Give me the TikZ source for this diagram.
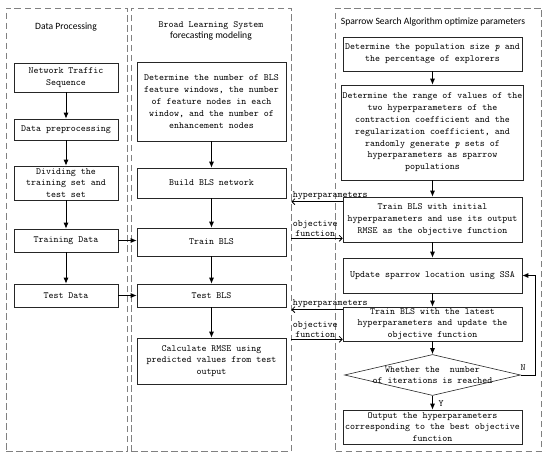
\documentclass[tikz,border=0pt]{standalone}
\usepackage{fontspec}
\usepackage{tikz}
\usetikzlibrary{arrows.meta, shapes.geometric}
\newfontfamily\headfont{Carlito}

\begin{document}
\begin{tikzpicture}[x=1pt, y=-1pt,
		panel/.style={draw=gray, dash pattern=on 6.5pt off 3.5pt, line width=0.8pt, inner sep=0pt},
		stepbox/.style={draw=black!85, line width=0.6pt, inner sep=1pt, align=center, font=\ttfamily\fontsize{9.5}{11.8}\selectfont},
		flow/.style={-{Latex[length=6pt, width=5pt]}, line width=0.9pt},
		feed/.style={-{Straight Barb[length=3pt, width=6pt]}, line width=0.8pt},
		tag/.style={inner sep=1pt, font=\ttfamily\fontsize{9.5}{10.5}\selectfont, align=center},
		head/.style={font=\headfont\fontsize{9.6}{11.6}\selectfont, align=center}]
			\useasboundingbox (0,0) rectangle (550,460);

			\node[panel, minimum width=121pt, minimum height=443pt] (dppanel) at (66.5,229.5) {};
			\node[panel, minimum width=160pt, minimum height=443pt] (blspanel) at (211,229.5) {};
			\node[panel, minimum width=206pt, minimum height=443pt] (ssapanel) at (438.5,229.5) {};

			\node[head] (dptitle) at (66,27) {Data Processing};
			\node[head] (blstitle) at (211,31) {{\ttfamily\fontsize{9.5}{12}\selectfont Broad Learning System}\\forecasting modeling};
			\node[head] (ssatitle) at (433,22) {Sparrow Search Algorithm optimize parameters};

			\node[stepbox, minimum width=104pt, minimum height=29pt] (seq) at (66,77.5) {Network Traffic\\Sequence};
			\node[stepbox, minimum width=104pt, minimum height=21pt] (prep) at (66,129.5) {Data preprocessing};
			\node[stepbox, minimum width=104pt, minimum height=34pt] (split) at (66,183) {Dividing the\\training set and\\test set};
			\node[stepbox, minimum width=104pt, minimum height=23pt] (traindata) at (66,240.5) {Training Data};
			\node[stepbox, minimum width=104pt, minimum height=23pt] (testdata) at (66,295.5) {Test Data};

			\node[stepbox, minimum width=149pt, minimum height=79pt] (setup) at (211.5,101.5) {Determine the number of BLS\\feature windows, the number\\of feature nodes in each\\window, and the number of\\enhancement nodes};
			\node[stepbox, minimum width=149pt, minimum height=30pt] (build) at (211.5,183) {Build BLS network};
			\node[stepbox, minimum width=149pt, minimum height=28pt] (trainbls) at (211.5,242) {Train BLS};
			\node[stepbox, minimum width=149pt, minimum height=23pt] (testbls) at (211.5,295.5) {Test BLS};
			\node[stepbox, minimum width=149pt, minimum height=46pt] (rmse) at (211.5,361) {Calculate RMSE using\\predicted values from test\\output};

			\node[stepbox, minimum width=179pt, minimum height=34pt] (popsize) at (432.5,54) {Determine the population size \textit{p} and\\the percentage of explorers};
			\node[stepbox, minimum width=179pt, minimum height=95pt] (range) at (432.5,132.5) {Determine the range of values of the\\two hyperparameters of the\\contraction coefficient and the\\regularization coefficient, and\\randomly generate \textit{p} sets of\\hyperparameters as sparrow\\populations};
			\node[stepbox, minimum width=179pt, minimum height=45pt] (traininit) at (432.5,219.5) {Train BLS with initial\\hyperparameters and use its output\\RMSE as the objective function};
			\node[stepbox, minimum width=179pt, minimum height=35pt] (update) at (432.5,275.5) {Update sparrow location using SSA};
			\node[stepbox, minimum width=179pt, minimum height=34pt] (trainlast) at (432.5,324) {Train BLS with the latest\\hyperparameters and update the\\objective function};
			\node[diamond, draw=black!85, line width=0.6pt, inner sep=0pt, minimum width=176pt, minimum height=41pt] (check) at (432.5,375) {};
			\node[tag] (checktext) at (432.5,375) {Whether the\ \ number\\of iterations is reached};
			\node[stepbox, minimum width=179pt, minimum height=34pt] (best) at (432.5,427) {Output the hyperparameters\\corresponding to the best objective\\function};

			\draw[flow] (seq) -- (prep);
			\draw[flow] (prep) -- (split);
			\draw[flow] (split) -- (traindata);
			\draw[flow] (traindata) -- (testdata);
			\draw[flow] (traindata.east) -- (traindata.east -| trainbls.west);
			\draw[flow] (testdata.east) -- (testdata.east -| testbls.west);

			\draw[flow] (setup) -- (build);
			\draw[flow] (build) -- (trainbls);
			\draw[flow] (trainbls) -- (testbls);
			\draw[flow] (testbls) -- (rmse);

			\draw[flow] (popsize) -- (range);
			\draw[flow] (range) -- (traininit);
			\draw[flow] (traininit) -- (update);
			\draw[flow] (update) -- (trainlast);
			\draw[flow] (trainlast) -- (check);
			\draw[flow] (check) -- (best);
			\draw[flow] (check.east) -- ++(15,0) |- (update.east);
			\node[tag] (nlabel) at (523,368) {N};
			\node[tag] (ylabel) at (441,404) {Y};

			\coordinate (hypa) at ([yshift=-5pt]traininit.north west);
			\coordinate (obja) at ([yshift=4pt]traininit.south west);
			\coordinate (hypb) at ([yshift=-3pt]trainlast.north west);
			\coordinate (objb) at ([yshift=2pt]trainlast.south west);
			\draw[feed] (hypa) -- (hypa -| blspanel.east) node[tag, pos=1, anchor=south west, yshift=1pt] {hyperparameters};
			\draw[feed] (obja -| blspanel.east) -- (obja) node[tag, pos=0, anchor=south west] {objective\\function};
			\draw[feed] (hypb) -- (hypb -| blspanel.east) node[tag, pos=1, anchor=south west, yshift=1pt] {hyperparameters};
			\draw[feed] (objb -| blspanel.east) -- (objb) node[tag, pos=0, anchor=south west] {objective\\function};
		\end{tikzpicture}
\end{document}
